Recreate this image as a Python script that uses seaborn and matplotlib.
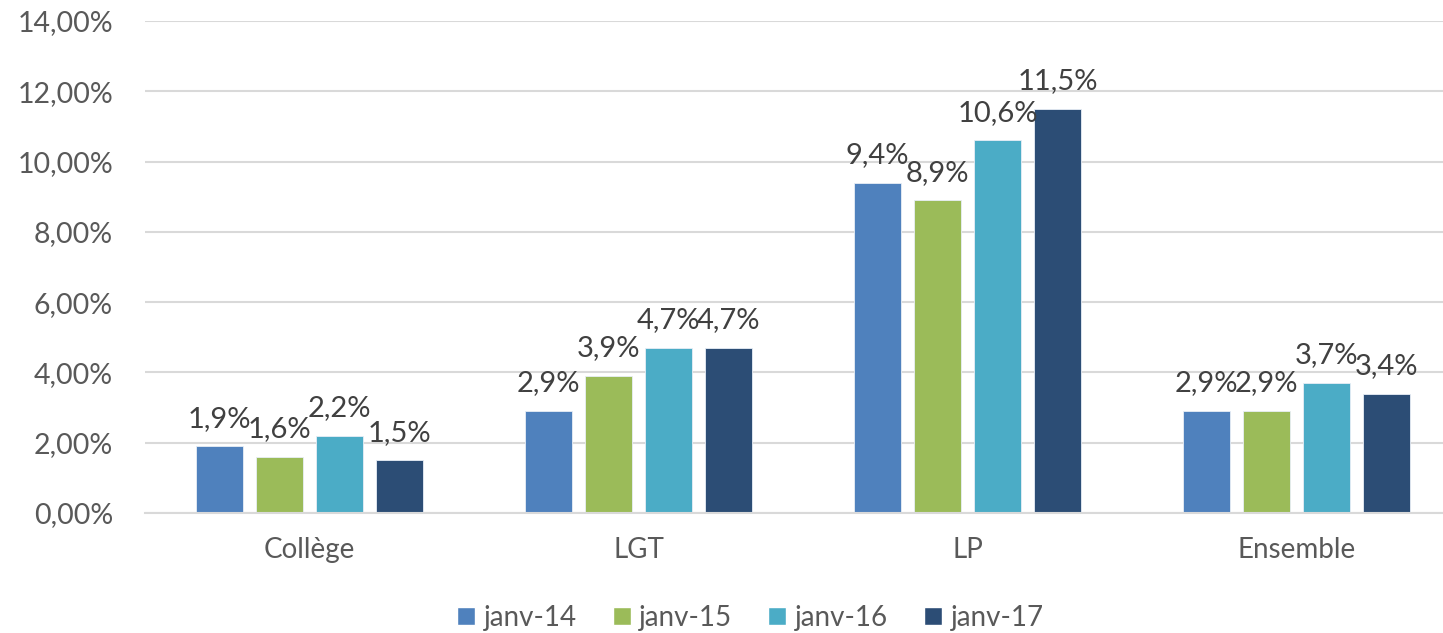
import pandas as pd
import seaborn as sns
import matplotlib.pyplot as plt
from matplotlib.patches import Patch
from matplotlib.ticker import FuncFormatter

# Data (share of pupils, %)
categories = ["Collège", "LGT", "LP", "Ensemble"]
periods = ["janv-14", "janv-15", "janv-16", "janv-17"]
janv_14 = [1.9, 2.9, 9.4, 2.9]
janv_15 = [1.6, 3.9, 8.9, 2.9]
janv_16 = [2.2, 4.7, 10.6, 3.7]
janv_17 = [1.5, 4.7, 11.5, 3.4]
colors = ["#4F81BD", "#9BBB59", "#4BACC6", "#2C4D75"]

series = [janv_14, janv_15, janv_16, janv_17]
df = pd.DataFrame({
    "categorie": categories * len(periods),
    "periode": [p for p in periods for _ in categories],
    "taux": [v / 100 for s in series for v in s],
})

sns.set_style("white")
plt.rcParams["font.family"] = ["Lato", "DejaVu Sans"]

fig = plt.figure(figsize=(14.43, 6.33), dpi=100)
# plot area runs past the right edge like the cropped original
ax = fig.add_axes([145 / 1443, 1 - 513 / 633, 1316 / 1443, 492 / 633])

sns.barplot(
    data=df, x="categorie", y="taux", hue="periode",
    order=categories, hue_order=periods, palette=colors, saturation=1,
    width=0.73, gap=0.22, edgecolor="#E8EEF6", linewidth=0.6,
    legend=False, ax=ax,
)

# data labels, French decimal comma
for cont, vals in zip(ax.containers, series):
    labels = [f"{v:.1f}%".replace(".", ",") for v in vals]
    ax.bar_label(cont, labels=labels, padding=10.5, fontsize=21, color="#404040")

ax.set_xlim(-0.5, 3.5)
ax.set_ylim(0, 0.14)
ax.set_yticks([i / 100 for i in range(0, 15, 2)])
ax.yaxis.set_major_formatter(FuncFormatter(lambda v, _: f"{v * 100:.2f}%".replace(".", ",")))
ax.grid(axis="y", color="#D9D9D9", linewidth=1.5)
ax.set_axisbelow(True)
for side in ["left", "right", "top"]:
    ax.spines[side].set_visible(False)
ax.spines["bottom"].set_color("#D9D9D9")
ax.spines["bottom"].set_linewidth(1.5)
ax.tick_params(axis="y", length=0, pad=23, labelsize=20.5, labelcolor="#595959")
ax.tick_params(axis="x", length=0, pad=17, labelsize=20, labelcolor="#595959")
ax.set_xlabel("")
ax.set_ylabel("")

handles = [Patch(facecolor=c, label=p) for c, p in zip(colors, periods)]
fig.legend(
    handles=handles, loc="center", bbox_to_anchor=(0.52, 0.024), ncol=4,
    frameon=False, fontsize=20, labelcolor="#595959",
    handlelength=0.65, handleheight=0.65, handletextpad=0.3, columnspacing=1.3,
)

fig.savefig("out.png", dpi=100)
